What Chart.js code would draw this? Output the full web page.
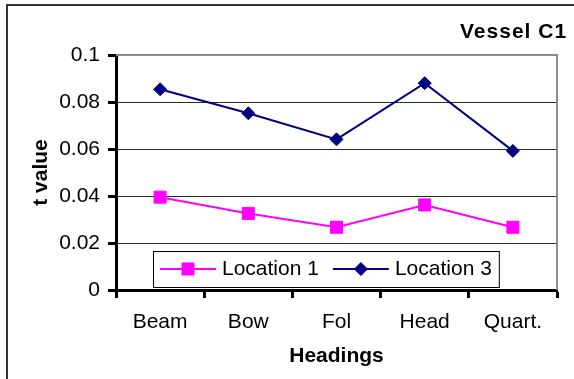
<!DOCTYPE html>
<html>
<head>
<meta charset="utf-8">
<script src="https://cdn.jsdelivr.net/npm/chart.js@4/dist/chart.umd.min.js"></script>
<style>
  html, body { margin: 0; padding: 0; background: #fff; overflow: hidden; }
  #wrap { position: relative; width: 574px; height: 379px; }
  #chart { position: absolute; left: 0; top: 0; }
  #frame { position: absolute; left: 6px; top: 4px; width: 620px; height: 420px;
           border: 2px solid #333; box-sizing: border-box; pointer-events: none; }
</style>
</head>
<body>
<div id="wrap">
  <canvas id="chart" width="574" height="379"></canvas>
  <div id="frame"></div>
</div>
<script>
// Headings on the x axis
const categories = ['Beam', 'Bow', 'Fol', 'Head', 'Quart.'];

// t values per heading
const location1 = [0.0395, 0.0326, 0.0267, 0.0362, 0.0267];
const location3 = [0.0854, 0.0752, 0.0641, 0.0880, 0.0592];

// y axis ticks and their printed labels
const yTicks = [0, 0.02, 0.04, 0.06, 0.08, 0.1];
const yTickLabels = ['0', '0.02', '0.04', '0.06', '0.08', '0.1'];

const chartTitle = 'Vessel C1';
const xTitle = 'Headings';
const yTitle = 't value';

const FONT = "'Liberation Sans', Arial, Helvetica, sans-serif";

// Bold title in the upper right corner
const titlePlugin = {
  id: 'cornerTitle',
  afterDraw(chart) {
    const ctx = chart.ctx;
    ctx.save();
    ctx.font = 'bold 21px ' + FONT;
    if ('letterSpacing' in ctx) ctx.letterSpacing = '1px';
    ctx.fillStyle = '#000';
    ctx.textAlign = 'left';
    ctx.textBaseline = 'middle';
    ctx.fillText(chartTitle, 460, 32);
    ctx.restore();
  }
};

// Grey frame on the top and right of the plot area
const plotFramePlugin = {
  id: 'plotFrame',
  beforeDatasetsDraw(chart) {
    const { ctx, chartArea: a } = chart;
    ctx.save();
    ctx.strokeStyle = '#8c8c8c';
    ctx.lineWidth = 2;
    ctx.beginPath();
    ctx.moveTo(a.left, a.top);
    ctx.lineTo(a.right, a.top);
    ctx.lineTo(a.right, a.bottom);
    ctx.stroke();
    ctx.restore();
  }
};

function drawMarker(ctx, style, x, y, r, fill, stroke) {
  ctx.save();
  ctx.fillStyle = fill;
  ctx.strokeStyle = stroke;
  ctx.lineWidth = 1;
  ctx.beginPath();
  if (style === 'rect') {
    const s = Math.SQRT1_2 * r;
    ctx.rect(x - s, y - s, 2 * s, 2 * s);
  } else {
    ctx.moveTo(x - r, y);
    ctx.lineTo(x, y - r);
    ctx.lineTo(x + r, y);
    ctx.lineTo(x, y + r);
    ctx.closePath();
  }
  ctx.fill();
  ctx.stroke();
  ctx.restore();
}

// Boxed legend inside the plot: line sample with marker, then the label
const boxLegendPlugin = {
  id: 'boxLegend',
  afterDatasetsDraw(chart, args, opts) {
    const ctx = chart.ctx;
    ctx.save();
    ctx.font = '21px ' + FONT;
    const sample = 56, gapText = 6, gapItem = 14, padX = 7;
    const items = chart.data.datasets.map(ds => ({
      ds, w: ctx.measureText(ds.label).width
    }));
    const total = padX * 2 + items.reduce((s, it) => s + sample + gapText + it.w, 0)
                + gapItem * (items.length - 1);
    const x0 = opts.x, y0 = opts.y, h = opts.height;
    ctx.fillStyle = '#fff';
    ctx.fillRect(x0, y0, total, h);
    ctx.strokeStyle = '#000';
    ctx.lineWidth = 1;
    ctx.strokeRect(x0 + 0.5, y0 + 0.5, total, h);
    const cy = y0 + h / 2;
    let x = x0 + padX;
    items.forEach(({ ds, w }) => {
      ctx.strokeStyle = ds.borderColor;
      ctx.lineWidth = ds.borderWidth;
      ctx.beginPath();
      ctx.moveTo(x, cy);
      ctx.lineTo(x + sample, cy);
      ctx.stroke();
      drawMarker(ctx, ds.pointStyle, x + sample / 2, cy, ds.pointRadius,
                 ds.pointBackgroundColor, ds.pointBorderColor);
      ctx.fillStyle = '#000';
      ctx.textAlign = 'left';
      ctx.textBaseline = 'middle';
      ctx.fillText(ds.label, x + sample + gapText, cy);
      x += sample + gapText + w + gapItem;
    });
    ctx.restore();
  }
};

new Chart(document.getElementById('chart'), {
  type: 'line',
  data: {
    labels: categories,
    datasets: [
      {
        label: 'Location 1',
        data: location1,
        borderColor: '#ff00ff',
        backgroundColor: '#ff00ff',
        borderWidth: 2,
        pointStyle: 'rect',
        pointRadius: 8.5,
        pointBackgroundColor: '#ff00ff',
        pointBorderColor: '#ff00ff',
        pointBorderWidth: 1,
        tension: 0
      },
      {
        label: 'Location 3',
        data: location3,
        borderColor: '#000080',
        backgroundColor: '#000080',
        borderWidth: 2,
        pointStyle: 'rectRot',
        pointRadius: 6.5,
        pointBackgroundColor: '#000080',
        pointBorderColor: '#000080',
        pointBorderWidth: 1,
        tension: 0
      }
    ]
  },
  options: {
    responsive: false,
    animation: false,
    devicePixelRatio: 1,
    layout: { padding: { left: 0, top: 55, right: 17, bottom: 0 } },
    plugins: {
      legend: { display: false },
      tooltip: { enabled: false },
      title: { display: false },
      boxLegend: { x: 153, y: 251, height: 36 }
    },
    scales: {
      x: {
        type: 'category',
        offset: true,
        grid: {
          offset: true,
          drawOnChartArea: false,
          drawTicks: true,
          tickLength: 8,
          tickWidth: 3,
          tickColor: '#000'
        },
        border: { display: true, color: '#000', width: 3 },
        ticks: {
          color: '#000',
          font: { family: FONT, size: 21 },
          padding: 12,
          maxRotation: 0,
          autoSkip: false
        },
        title: {
          display: true,
          text: xTitle,
          color: '#000',
          font: { family: FONT, size: 21, weight: 'bold' },
          padding: { top: 0, bottom: 10 }
        },
        afterFit(scale) { scale.height = 89; }
      },
      y: {
        min: 0,
        max: 0.1,
        afterBuildTicks(scale) { scale.ticks = yTicks.map(v => ({ value: v })); },
        grid: {
          color: ctx => (ctx.tick && ctx.tick.value === 0.1) ? '#8c8c8c' : '#2a2a2a',
          lineWidth: 1,
          drawTicks: true,
          tickLength: 8,
          tickWidth: 3,
          tickColor: '#000'
        },
        border: { display: true, color: '#000', width: 3 },
        ticks: {
          color: '#000',
          font: { family: FONT, size: 21 },
          padding: 8,
          callback: (value, index) => yTickLabels[index]
        },
        title: {
          display: true,
          text: yTitle,
          color: '#000',
          font: { family: FONT, size: 21, weight: 'bold' },
          padding: { top: 29, bottom: 0 }
        },
        afterFit(scale) { scale.width = 116; }
      }
    }
  },
  plugins: [plotFramePlugin, boxLegendPlugin, titlePlugin]
});
</script>
</body>
</html>
